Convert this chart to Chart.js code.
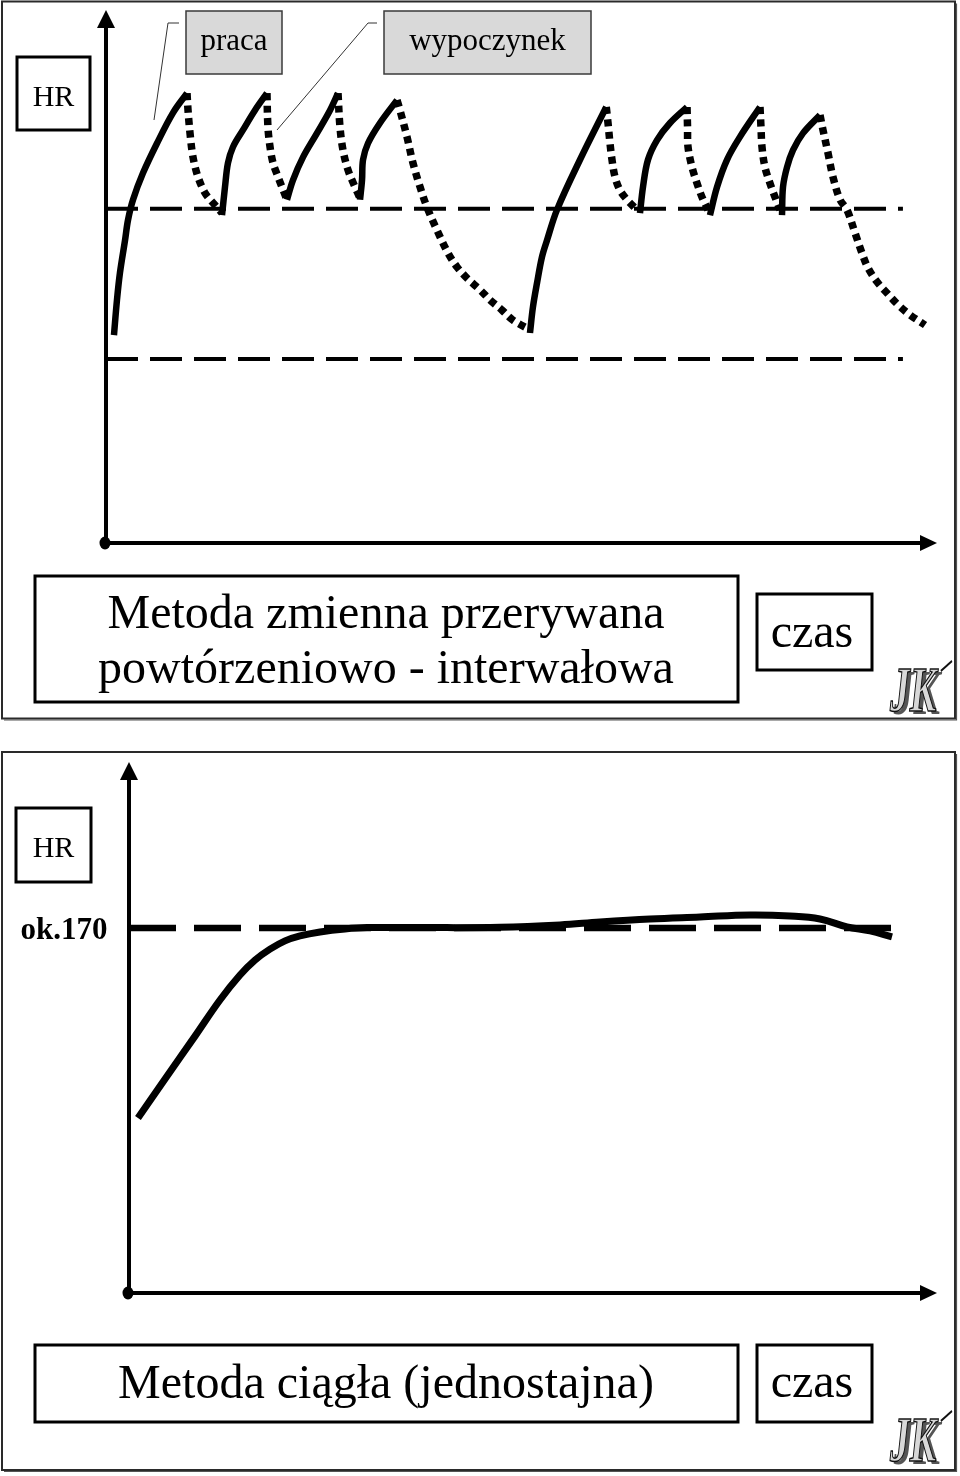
<!DOCTYPE html>
<html lang="pl">
<head>
<meta charset="utf-8">
<title>HR - metoda przerywana i ciągła</title>
<script src="https://cdn.jsdelivr.net/npm/chart.js@4.4.1/dist/chart.umd.min.js"></script>
<style>
  html, body { margin: 0; padding: 0; background: #fff; }
  .panel { position: absolute; left: 0; width: 960px; height: 738px; }
  #p1 { top: 0; }
  #p2 { top: 738px; }
</style>
</head>
<body>
<div class="panel" id="p1"><canvas id="chartPrzerywana" width="960" height="738"></canvas></div>
<div class="panel" id="p2"><canvas id="chartCiagla" width="960" height="738"></canvas></div>
<script>
// --- wykres 1: metoda zmienna przerywana (czas 0-100, HR wzgledne 0-100) ---
const praca1 = [[0.96,39.0],[1.32,45.6],[1.68,50.7],[2.29,56.8],[2.65,60.6],[3.25,64.4],[4.45,69.4],[6.14,75.0],[8.06,80.7],[9.75,84.4]];
const wypoczynek1 = [[9.75,84.4],[9.87,81.2],[10.11,76.9],[10.47,72.4],[11.07,68.7],[11.91,65.7],[12.88,63.8],[13.96,61.9]];
const praca2 = [[13.96,61.5],[14.32,66.8],[14.68,71.3],[15.28,74.3],[16.49,77.5],[17.93,81.2],[19.37,84.4]];
const wypoczynek2 = [[19.37,84.4],[19.49,78.0],[19.74,74.3],[20.10,71.3],[20.70,68.7],[21.78,64.4]];
const praca3 = [[21.78,64.4],[22.50,68.1],[23.71,72.4],[25.39,76.9],[26.96,81.2],[27.92,84.4]];
const wypoczynek3 = [[27.92,84.4],[28.16,78.0],[28.52,73.7],[29.12,70.0],[29.96,66.8],[30.57,64.7]];
const praca4 = [[30.57,64.4],[30.81,68.1],[30.93,71.9],[31.53,75.0],[32.97,78.8],[35.02,83.1]];
const wypoczynek4 = [[35.02,83.1],[35.38,81.2],[36.22,76.2],[36.94,71.3],[37.79,66.8],[38.63,63.0],[39.83,58.7],[41.16,54.4],[42.24,51.8],[43.44,49.7],[45.01,47.5],[46.21,45.6],[47.65,43.7],[48.98,41.8],[51.02,40.0]];
const praca5 = [[51.02,39.4],[51.38,44.3],[51.87,48.8],[52.47,53.7],[53.07,56.8],[54.27,62.5],[57.04,71.9],[60.2,81.8]];
const wypoczynek5 = [[60.2,81.8],[60.41,78.8],[60.65,75.0],[60.89,71.9],[61.25,68.7],[61.85,66.2],[62.70,64.4],[63.90,62.5]];
const praca6 = [[64.26,61.9],[64.62,66.8],[65.22,71.9],[66.31,75.6],[67.87,78.8],[69.92,81.8]];
const wypoczynek6 = [[69.92,81.8],[69.98,78.0],[70.04,74.3],[70.52,70.5],[71.12,67.5],[71.72,64.9],[72.44,62.5]];
const praca7 = [[72.68,61.5],[73.53,66.8],[74.73,71.9],[76.29,76.2],[78.70,81.8]];
const wypoczynek7 = [[78.70,81.8],[78.82,78.0],[78.94,74.3],[79.30,70.5],[79.90,67.5],[80.51,64.9],[81.11,62.5]];
const praca8 = [[81.35,61.5],[81.47,66.8],[81.95,70.5],[82.67,73.7],[83.88,76.9],[85.92,80.3]];
const wypoczynek8 = [[85.92,80.3],[86.28,77.5],[86.88,73.2],[87.48,68.7],[88.33,64.4],[89.17,62.5],[90.13,58.2],[90.97,54.4],[91.70,51.6],[92.78,49.0],[93.98,46.9],[95.31,44.7],[96.75,42.8],[98.56,40.9]];
const progGorny = 62.7;   // gorna linia przerywana
const progDolny = 34.5;   // dolna linia przerywana
const progKoniec = 95.9;  // gdzie linie sie koncza

// --- wykres 2: metoda ciagla (czas 0-100, HR 60-220) ---
const ciaglaCzas = [1.11, 4.46, 8.17, 11.26, 13.74, 15.59, 17.45, 19.31, 21.16, 23.64, 26.73, 29.46, 36.01, 45.92, 53.34, 58.29, 64.48, 70.67, 76.86, 81.81, 85.52, 88.86, 91.71, 94.43];
const ciaglaHR = [112.7, 124.5, 137.4, 148.3, 155.8, 160.3, 163.6, 166.1, 167.6, 168.8, 169.7, 170.1, 170.1, 170.2, 170.9, 171.8, 172.7, 173.3, 173.9, 173.6, 172.7, 170.3, 169.1, 167.3];
const hrDocelowe = 170;
const hrKoniec = 95.2;

const SERIF = '"Liberation Serif", "Times New Roman", serif';

const pracaSegs = [praca1, praca2, praca3, praca4, praca5, praca6, praca7, praca8];
const wypSegs = [wypoczynek1, wypoczynek2, wypoczynek3, wypoczynek4, wypoczynek5, wypoczynek6, wypoczynek7, wypoczynek8];

// ---------- rysowanie pomocnicze ----------
function rama(ctx, x, y, w, h) {
    ctx.save();
    ctx.strokeStyle = '#2a2a2a'; ctx.lineWidth = 2;
    ctx.strokeRect(x, y, w, h);
    ctx.lineWidth = 1.2; ctx.strokeStyle = '#555';
    ctx.beginPath(); ctx.moveTo(x + w + 1.5, y + 2); ctx.lineTo(x + w + 1.5, y + h + 1.5); ctx.lineTo(x + 2, y + h + 1.5); ctx.stroke();
    ctx.restore();
}

function pudelko(ctx, x, y, w, h, lw, fill, stroke) {
    ctx.save();
    if (fill) { ctx.fillStyle = fill; ctx.fillRect(x, y, w, h); }
    ctx.strokeStyle = stroke || '#000'; ctx.lineWidth = lw;
    ctx.strokeRect(x, y, w, h);
    ctx.restore();
}

function tekst(ctx, t, x, y, size, bold) {
    ctx.save();
    ctx.fillStyle = '#000';
    ctx.font = (bold ? 'bold ' : '') + size + 'px ' + SERIF;
    ctx.textAlign = 'center'; ctx.textBaseline = 'alphabetic';
    ctx.fillText(t, x, y);
    ctx.restore();
}

function osie(ctx, a) {
    ctx.save();
    ctx.strokeStyle = '#000'; ctx.fillStyle = '#000'; ctx.lineWidth = 4;
    ctx.beginPath();
    ctx.moveTo(a.left, a.bottom); ctx.lineTo(a.left, a.top + 16);
    ctx.moveTo(a.left, a.bottom); ctx.lineTo(a.right - 15, a.bottom);
    ctx.stroke();
    ctx.beginPath();
    ctx.moveTo(a.left, a.top); ctx.lineTo(a.left - 9, a.top + 18); ctx.lineTo(a.left + 9, a.top + 18); ctx.closePath();
    ctx.moveTo(a.right, a.bottom); ctx.lineTo(a.right - 17, a.bottom - 8); ctx.lineTo(a.right - 17, a.bottom + 8); ctx.closePath();
    ctx.fill();
    ctx.beginPath(); ctx.ellipse(a.left - 1, a.bottom, 5.5, 6.5, 0, 0, Math.PI * 2); ctx.fill();
    ctx.restore();
}

function logoJK(ctx, x, y) {
    ctx.save();
    ctx.translate(x, y);
    ctx.scale(0.62, 1);
    ctx.font = 'italic bold 64px ' + SERIF;
    ctx.textAlign = 'left';
    ctx.fillStyle = '#555';
    ctx.fillText('JK', 6, 3);
    ctx.fillStyle = '#d8d8d8';
    ctx.fillText('JK', 0, 0);
    ctx.strokeStyle = '#111'; ctx.lineWidth = 1.5;
    ctx.strokeText('JK', 0, 0);
    ctx.beginPath(); ctx.moveTo(82, -40); ctx.lineTo(100, -50); ctx.lineWidth = 2.5; ctx.stroke();
    ctx.restore();
}

// ---------- wykres 1 ----------
const dekoracjaPrzerywana = {
    id: 'dekoracjaPrzerywana',
    beforeDatasetsDraw(chart) {
        const ctx = chart.ctx;
        rama(ctx, 2, 1.5, 953, 717);
        osie(ctx, chart.chartArea);
    },
    afterDatasetsDraw(chart) {
        const ctx = chart.ctx;
        pudelko(ctx, 17, 57, 73, 73, 3);
        tekst(ctx, 'HR', 53.5, 106, 30);
        pudelko(ctx, 186, 11, 96, 63, 1.5, '#d9d9d9', '#3a3a3a');
        tekst(ctx, 'praca', 234, 50, 31);
        pudelko(ctx, 384, 11, 207, 63, 1.5, '#d9d9d9', '#3a3a3a');
        tekst(ctx, 'wypoczynek', 487.5, 50, 31);
        ctx.save();
        ctx.strokeStyle = '#333'; ctx.lineWidth = 1;
        ctx.beginPath();
        ctx.moveTo(179, 23); ctx.lineTo(168, 23); ctx.lineTo(154, 120);
        ctx.moveTo(377, 23); ctx.lineTo(368, 23); ctx.lineTo(277, 130);
        ctx.stroke();
        ctx.restore();
        pudelko(ctx, 35, 576, 703, 126, 3);
        tekst(ctx, 'Metoda zmienna przerywana', 386, 628, 48);
        tekst(ctx, 'powtórzeniowo - interwałowa', 386, 683, 48);
        pudelko(ctx, 757, 594, 115, 76, 3);
        tekst(ctx, 'czas', 812, 647, 48);
        logoJK(ctx, 890, 711);
    }
};

const zestawy1 = [];
pracaSegs.forEach((seg, i) => zestawy1.push({
    label: 'praca ' + (i + 1), data: seg, borderColor: '#000', borderWidth: 6.5,
    tension: 0.35, borderCapStyle: 'butt', order: 1
}));
wypSegs.forEach((seg, i) => zestawy1.push({
    label: 'wypoczynek ' + (i + 1), data: seg, borderColor: '#000', borderWidth: 7.5,
    borderDash: [7, 5.5], tension: 0.35, borderCapStyle: 'butt', order: 1
}));
[progGorny, progDolny].forEach((v, i) => zestawy1.push({
    label: 'próg ' + (i + 1), data: [[0, v], [progKoniec, v]], borderColor: '#000', borderWidth: 4,
    borderDash: [32, 12], order: 2
}));

new Chart(document.getElementById('chartPrzerywana'), {
    type: 'line',
    data: { datasets: zestawy1 },
    options: {
        responsive: false, animation: false,
        layout: { padding: { left: 106, top: 10, right: 23, bottom: 195 } },
        elements: { point: { radius: 0 } },
        scales: {
            x: { type: 'linear', min: 0, max: 100, display: false },
            y: { type: 'linear', min: 0, max: 100, display: false }
        },
        plugins: { legend: { display: false }, tooltip: { enabled: false } }
    },
    plugins: [dekoracjaPrzerywana]
});

// ---------- wykres 2 ----------
const dekoracjaCiagla = {
    id: 'dekoracjaCiagla',
    beforeDatasetsDraw(chart) {
        const ctx = chart.ctx;
        rama(ctx, 2, 14, 953, 718);
        osie(ctx, chart.chartArea);
    },
    afterDatasetsDraw(chart) {
        const ctx = chart.ctx;
        pudelko(ctx, 16, 70, 75, 74, 3);
        tekst(ctx, 'HR', 53.5, 119, 30);
        tekst(ctx, 'ok.' + hrDocelowe, 64, 201, 31, true);
        pudelko(ctx, 35, 607, 703, 77, 3);
        tekst(ctx, 'Metoda ciągła (jednostajna)', 386, 660, 48);
        pudelko(ctx, 757, 607, 115, 77, 3);
        tekst(ctx, 'czas', 812, 659, 48);
        logoJK(ctx, 890, 723);
    }
};

new Chart(document.getElementById('chartCiagla'), {
    type: 'line',
    data: {
        datasets: [
            {
                label: 'HR', data: ciaglaCzas.map((t, i) => ({ x: t, y: ciaglaHR[i] })),
                borderColor: '#000', borderWidth: 7, tension: 0.4, borderCapStyle: 'butt', order: 1
            },
            {
                label: 'ok.170', data: [{ x: 0, y: hrDocelowe }, { x: hrKoniec, y: hrDocelowe }],
                borderColor: '#000', borderWidth: 6.5, borderDash: [47, 18], order: 2
            }
        ]
    },
    options: {
        responsive: false, animation: false,
        layout: { padding: { left: 129, top: 24, right: 23, bottom: 183 } },
        elements: { point: { radius: 0 } },
        scales: {
            x: { type: 'linear', min: 0, max: 100, display: false },
            y: { type: 'linear', min: 60, max: 220, display: false }
        },
        plugins: { legend: { display: false }, tooltip: { enabled: false } }
    },
    plugins: [dekoracjaCiagla]
});
</script>
</body>
</html>
